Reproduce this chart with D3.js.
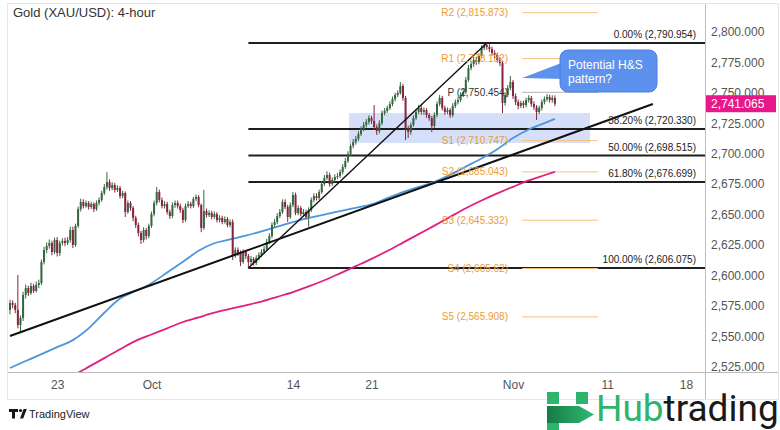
<!DOCTYPE html>
<html>
<head>
<meta charset="utf-8">
<script src="https://cdn.jsdelivr.net/npm/d3@7"></script>
<style>
  html, body { margin: 0; padding: 0; background: #ffffff; }
  svg { display: block; font-family: "Liberation Sans", Arial, sans-serif; }
</style>
</head>
<body>
<svg id="chart" width="780" height="430"></svg>
<script>
// ---- Gold (XAU/USD) 4-hour candles, Sep 18 – Nov 5 2024 (6 bars per session) ----
const tradingDays = [
  "2024-09-18","2024-09-19","2024-09-20","2024-09-23","2024-09-24","2024-09-25","2024-09-26","2024-09-27",
  "2024-09-30","2024-10-01","2024-10-02","2024-10-03","2024-10-04","2024-10-07","2024-10-08","2024-10-09",
  "2024-10-10","2024-10-11","2024-10-14","2024-10-15","2024-10-16","2024-10-17","2024-10-18","2024-10-21",
  "2024-10-22","2024-10-23","2024-10-24","2024-10-25","2024-10-28","2024-10-29","2024-10-30","2024-10-31",
  "2024-11-01","2024-11-04","2024-11-05","2024-11-06","2024-11-07","2024-11-08","2024-11-11","2024-11-12",
  "2024-11-13","2024-11-14","2024-11-15","2024-11-18","2024-11-19","2024-11-20","2024-11-21","2024-11-22"
];
const barsPerDay = 6;
const dateTicks = ["2024-09-23","2024-10-01","2024-10-14","2024-10-21","2024-11-01","2024-11-11","2024-11-18"];

const open = [
  2571.6,2577.3,2575.7,2571.6,2559.2,2565.0,2583.9,2589.6,2585.5,2591.3,
  2587.2,2592.1,2593.7,2611.0,2620.9,2624.2,2626.6,2619.2,2629.1,2618.4,
  2626.6,2628.3,2626.6,2629.1,2637.3,2625.0,2640.6,2654.5,2660.3,2657.0,
  2659.5,2656.2,2658.7,2654.5,2659.5,2662.0,2667.7,2672.6,2676.7,2671.8,
  2674.3,2670.2,2671.8,2665.2,2667.7,2652.1,2659.5,2655.4,2647.2,2641.4,
  2634.8,2629.1,2637.3,2632.4,2640.6,2650.4,2659.5,2668.5,2662.0,2657.0,
  2658.7,2652.1,2648.8,2657.8,2659.5,2657.0,2653.7,2645.5,2657.0,2658.7,
  2657.0,2662.8,2664.4,2657.8,2639.0,2652.9,2649.6,2651.3,2648.0,2650.4,
  2645.5,2647.2,2643.9,2646.3,2641.4,2643.9,2616.8,2620.9,2618.4,2611.0,
  2619.2,2615.9,2611.0,2613.5,2610.2,2614.3,2616.8,2619.2,2621.7,2627.5,
  2632.4,2641.4,2643.9,2648.8,2652.1,2660.3,2656.2,2648.0,2657.8,2666.1,
  2651.3,2655.4,2650.4,2652.1,2648.0,2653.7,2662.0,2665.2,2663.6,2668.5,
  2675.1,2680.0,2682.5,2675.1,2678.4,2680.9,2681.7,2684.9,2689.1,2694.0,
  2699.8,2706.4,2709.6,2712.1,2716.2,2720.3,2723.6,2726.1,2729.3,2726.9,
  2721.9,2718.6,2725.2,2733.4,2735.1,2737.5,2740.8,2744.9,2748.2,2749.9,
  2755.6,2745.8,2721.1,2717.8,2723.6,2729.3,2734.3,2737.5,2734.3,2735.9,
  2731.8,2729.3,2722.8,2731.8,2740.8,2745.8,2737.5,2734.3,2735.9,2731.8,
  2739.2,2742.5,2744.1,2748.2,2750.7,2760.6,2770.4,2773.7,2777.0,2775.4,
  2780.3,2786.9,2789.3,2787.7,2786.0,2782.7,2781.1,2777.0,2774.5,2741.7,
  2748.2,2754.0,2758.9,2747.4,2742.5,2739.2,2741.7,2740.0,2744.1,2745.8,
  2740.8,2738.4,2734.3,2737.5,2742.5,2744.9,2746.6,2744.1,2745.8
];
const high = [
  2580.0,2579.5,2577.5,2600.3,2567.0,2586.5,2592.5,2591.5,2594.0,2593.0,
  2595.0,2596.5,2613.0,2623.5,2627.0,2629.5,2628.5,2631.0,2631.5,2628.5,
  2630.5,2631.0,2631.5,2640.0,2640.0,2642.5,2656.5,2663.0,2662.5,2661.5,
  2661.0,2660.5,2660.0,2661.5,2664.0,2669.5,2675.0,2684.9,2679.0,2676.5,
  2676.0,2674.0,2673.5,2669.5,2669.0,2661.5,2661.0,2657.0,2649.0,2643.5,
  2636.5,2639.5,2639.0,2642.5,2652.5,2661.5,2672.6,2670.5,2664.0,2661.0,
  2660.5,2654.0,2660.0,2661.5,2661.5,2659.0,2655.5,2659.0,2661.0,2660.5,
  2664.5,2666.5,2666.0,2659.0,2670.2,2655.0,2653.5,2653.0,2652.5,2652.0,
  2649.5,2649.0,2648.5,2648.0,2646.0,2646.0,2623.0,2623.0,2620.5,2621.5,
  2621.0,2617.5,2616.0,2615.0,2616.5,2619.0,2621.5,2624.0,2630.0,2634.5,
  2643.5,2646.5,2651.0,2654.5,2662.5,2662.5,2658.0,2660.0,2668.5,2668.0,
  2657.5,2657.0,2654.5,2654.0,2656.0,2664.0,2667.5,2667.5,2670.5,2677.5,
  2682.5,2685.5,2684.5,2680.5,2683.0,2684.0,2687.0,2691.5,2696.5,2702.0,
  2708.5,2712.0,2714.5,2718.5,2722.5,2726.0,2728.5,2731.5,2731.0,2740.0,
  2724.0,2727.5,2735.5,2737.5,2739.5,2743.0,2747.0,2750.0,2752.0,2758.9,
  2757.5,2747.5,2723.0,2725.5,2731.5,2736.5,2740.0,2739.5,2738.0,2737.5,
  2733.5,2731.0,2734.0,2743.0,2748.2,2747.5,2739.5,2738.0,2737.5,2741.5,
  2744.5,2746.5,2750.5,2753.0,2763.0,2773.0,2776.0,2779.5,2779.5,2782.5,
  2789.0,2790.5,2790.954,2790.0,2788.0,2785.0,2783.0,2779.5,2776.5,2750.5,
  2756.5,2763.8,2760.5,2749.5,2744.5,2743.5,2743.5,2746.0,2748.0,2747.5,
  2743.0,2740.0,2739.5,2744.5,2747.0,2749.0,2748.5,2748.0,2748.0
];
const low = [
  2568.0,2573.0,2569.0,2556.5,2553.0,2562.5,2581.0,2583.0,2584.0,2585.5,
  2586.0,2589.5,2592.0,2609.0,2618.5,2622.0,2616.5,2617.5,2615.5,2616.0,
  2624.5,2624.0,2625.0,2627.0,2622.5,2623.5,2639.0,2652.5,2655.0,2655.5,
  2654.0,2654.5,2652.0,2653.0,2657.5,2660.5,2666.0,2670.5,2669.5,2670.0,
  2668.0,2668.5,2663.0,2663.5,2648.0,2650.5,2653.0,2644.5,2639.0,2632.0,
  2625.8,2627.0,2629.5,2630.5,2639.0,2648.5,2657.5,2660.0,2655.0,2655.0,
  2650.0,2646.5,2647.0,2655.5,2655.0,2651.5,2643.0,2644.0,2655.5,2655.0,
  2655.5,2661.0,2656.0,2635.5,2637.5,2647.5,2648.0,2646.0,2646.5,2643.5,
  2643.5,2642.0,2642.5,2639.5,2639.5,2612.6,2614.5,2616.0,2607.7,2609.5,
  2613.5,2606.075,2608.5,2608.0,2608.5,2612.5,2615.0,2617.5,2620.0,2625.5,
  2630.5,2639.5,2642.0,2647.0,2650.5,2654.5,2643.9,2646.5,2656.0,2649.5,
  2649.5,2648.5,2648.5,2646.0,2639.8,2652.0,2660.0,2661.5,2662.0,2667.0,
  2673.5,2678.5,2673.0,2673.5,2676.5,2679.0,2680.0,2683.0,2687.5,2692.5,
  2698.0,2704.5,2707.5,2710.5,2714.5,2718.5,2721.5,2724.0,2724.5,2719.5,
  2715.4,2716.5,2723.5,2731.5,2733.5,2736.0,2739.0,2743.0,2746.5,2748.5,
  2743.5,2711.3,2712.9,2715.5,2722.0,2727.5,2732.5,2732.0,2732.0,2729.5,
  2727.0,2717.8,2721.0,2730.0,2739.0,2735.5,2732.0,2732.5,2729.5,2730.0,
  2737.5,2740.5,2742.5,2746.5,2749.0,2759.0,2768.5,2771.5,2773.0,2773.5,
  2778.5,2785.0,2785.5,2783.5,2780.5,2778.5,2775.0,2772.0,2733.4,2739.5,
  2746.5,2752.0,2745.0,2740.0,2736.5,2737.5,2737.5,2738.0,2742.0,2738.5,
  2736.0,2727.7,2732.5,2735.5,2740.5,2743.0,2742.0,2742.0,2739.0
];
const close = [
  2577.3,2575.7,2571.6,2559.2,2565.0,2583.9,2589.6,2585.5,2591.3,2587.2,
  2592.1,2593.7,2611.0,2620.9,2624.2,2626.6,2619.2,2629.1,2618.4,2626.6,
  2628.3,2626.6,2629.1,2637.3,2625.0,2640.6,2654.5,2660.3,2657.0,2659.5,
  2656.2,2658.7,2654.5,2659.5,2662.0,2667.7,2672.6,2676.7,2671.8,2674.3,
  2670.2,2671.8,2665.2,2667.7,2652.1,2659.5,2655.4,2647.2,2641.4,2634.8,
  2629.1,2637.3,2632.4,2640.6,2650.4,2659.5,2668.5,2662.0,2657.0,2658.7,
  2652.1,2648.8,2657.8,2659.5,2657.0,2653.7,2645.5,2657.0,2658.7,2657.0,
  2662.8,2664.4,2657.8,2639.0,2652.9,2649.6,2651.3,2648.0,2650.4,2645.5,
  2647.2,2643.9,2646.3,2641.4,2643.9,2616.8,2620.9,2618.4,2611.0,2619.2,
  2615.9,2611.0,2613.5,2610.2,2614.3,2616.8,2619.2,2621.7,2627.5,2632.4,
  2641.4,2643.9,2648.8,2652.1,2660.3,2656.2,2648.0,2657.8,2666.1,2651.3,
  2655.4,2650.4,2652.1,2648.0,2653.7,2662.0,2665.2,2663.6,2668.5,2675.1,
  2680.0,2682.5,2675.1,2678.4,2680.9,2681.7,2684.9,2689.1,2694.0,2699.8,
  2706.4,2709.6,2712.1,2716.2,2720.3,2723.6,2726.1,2729.3,2726.9,2721.9,
  2718.6,2725.2,2733.4,2735.1,2737.5,2740.8,2744.9,2748.2,2749.9,2755.6,
  2745.8,2721.1,2717.8,2723.6,2729.3,2734.3,2737.5,2734.3,2735.9,2731.8,
  2729.3,2722.8,2731.8,2740.8,2745.8,2737.5,2734.3,2735.9,2731.8,2739.2,
  2742.5,2744.1,2748.2,2750.7,2760.6,2770.4,2773.7,2777.0,2775.4,2780.3,
  2786.9,2789.3,2787.7,2786.0,2782.7,2781.1,2777.0,2774.5,2741.7,2748.2,
  2754.0,2758.9,2747.4,2742.5,2739.2,2741.7,2740.0,2744.1,2745.8,2740.8,
  2738.4,2734.3,2737.5,2742.5,2744.9,2746.6,2744.1,2745.8,2741.065
];

// ---- moving averages (sampled once per session) ----
const maFastBars = [0,6,12,18,24,30,36,42,48,54,60,66,72,78,84,90,96,102,108,114,120,126,132,138,144,150,156,162,168,174,180,186,192,198,204,208];
const maFast = [2523.9,2529.6,2535.3,2541.1,2546.8,2556.4,2569.3,2581.0,2587.2,2593.6,2602.4,2611.2,2620.2,2626.4,2629.5,2632.6,2636.2,2640.0,2643.8,2647.2,2650.0,2652.9,2655.5,2658.3,2663.5,2668.5,2672.7,2676.9,2682.6,2689.4,2696.1,2703.7,2712.9,2719.9,2725.1,2728.7];
const maSlowBars = [24,30,36,42,48,54,60,66,72,78,84,90,96,102,108,114,120,126,132,138,144,150,156,162,168,174,180,186,192,198,204,208];
const maSlow = [2517.6,2524.8,2532.0,2539.3,2546.2,2551.4,2556.5,2561.7,2565.5,2569.3,2572.4,2575.4,2578.5,2582.4,2586.3,2590.9,2596.0,2601.7,2607.6,2613.6,2620.0,2626.9,2633.9,2640.9,2648.1,2655.2,2661.5,2667.4,2672.8,2678.0,2682.3,2685.2];

// ---- drawn annotations ----
const trendLong = [[0, 2550.2], [245.4, 2740.8]];
const trendSteep = [[91, 2606.075], [182, 2790.954]];
const fibLow = 2606.075, fibHigh = 2790.954, fibStartBar = 91;
const fibLevels = [0, 0.382, 0.5, 0.618, 1];
const pivotNames = ["R2", "R1", "P", "S1", "S2", "S3", "S4", "S5"];
const pivotValues = [2815.873, 2778.182, 2750.454, 2710.747, 2685.043, 2645.332, 2605.62, 2565.908];
const zoneBars = [129.4, 221.4];
const zonePrices = [2708.8, 2733.4];
const priceTicks = d3.range(2525, 2801, 25);

// ---- layout ----
const svg = d3.select("#chart");
const plot = { left: 8, right: 705, top: 5, bottom: 372 };
const x = d3.scaleLinear().domain([0, 265.3]).range([10, plot.right]);
const y = d3.scaleLinear().domain([2520.6, 2822.2]).range([plot.bottom, plot.top]);
const fmt3 = d3.format(",.3f");
const fmtPlain = d3.format(",");

svg.append("rect").attr("width", 780).attr("height", 430).attr("fill", "#ffffff");
svg.append("rect").attr("x", 7.5).attr("y", 3.5).attr("width", 771).attr("height", 396)
  .attr("fill", "none").attr("stroke", "#e6e6e6");

svg.append("clipPath").attr("id", "plotClip").append("rect")
  .attr("x", plot.left).attr("y", plot.top)
  .attr("width", plot.right - plot.left).attr("height", plot.bottom - plot.top);
const g = svg.append("g").attr("clip-path", "url(#plotClip)");

// support zone
g.append("rect")
  .attr("x", x(zoneBars[0])).attr("width", x(zoneBars[1]) - x(zoneBars[0]))
  .attr("y", y(zonePrices[1])).attr("height", y(zonePrices[0]) - y(zonePrices[1]))
  .attr("fill", "rgba(120,150,235,0.30)");

// Fibonacci retracement
fibLevels.forEach(lv => {
  const p = fibHigh - lv * (fibHigh - fibLow);
  g.append("line")
    .attr("x1", x(fibStartBar)).attr("x2", plot.right)
    .attr("y1", y(p)).attr("y2", y(p))
    .attr("stroke", "#1e1e1e").attr("stroke-width", 2);
  svg.append("text")
    .attr("x", 696).attr("y", y(p) - 5)
    .attr("text-anchor", "end").attr("font-size", 10).attr("fill", "#222")
    .text(`${(lv * 100).toFixed(2)}% (${fmt3(p)})`);
});

// pivot points
pivotNames.forEach((name, k) => {
  const p = pivotValues[k];
  const isP = name === "P";
  g.append("line")
    .attr("x1", x(195.5)).attr("x2", x(224.5))
    .attr("y1", y(p)).attr("y2", y(p))
    .attr("stroke", isP ? "#b5b5b5" : "#f6c47e").attr("stroke-width", 1);
  svg.append("text")
    .attr("x", 508).attr("y", y(p)).attr("dy", "0.35em")
    .attr("text-anchor", "end").attr("font-size", 10)
    .attr("fill", isP ? "#333" : "#ee9b32")
    .text(`${name} (${fmtPlain(p)})`);
});

// moving averages
const maLine = d3.line().x(d => x(d[0])).y(d => y(d[1])).curve(d3.curveMonotoneX);
g.append("path").datum(maSlowBars.map((b, k) => [b, maSlow[k]]))
  .attr("d", maLine).attr("fill", "none").attr("stroke", "#e0207f").attr("stroke-width", 1.8);
g.append("path").datum(maFastBars.map((b, k) => [b, maFast[k]]))
  .attr("d", maLine).attr("fill", "none").attr("stroke", "#4a97db").attr("stroke-width", 1.8);

// candles
const bars = close.map((c, i) => ({ i, o: open[i], h: high[i], l: low[i], c }));
const upCol = "#35673c", downCol = "#862440";
const cg = g.append("g");
cg.selectAll("line").data(bars).join("line")
  .attr("x1", d => x(d.i)).attr("x2", d => x(d.i))
  .attr("y1", d => y(d.h)).attr("y2", d => y(d.l))
  .attr("stroke", d => d.c >= d.o ? upCol : downCol).attr("stroke-width", 1);
cg.selectAll("rect").data(bars).join("rect")
  .attr("x", d => x(d.i) - 1).attr("width", 2)
  .attr("y", d => y(Math.max(d.o, d.c)))
  .attr("height", d => Math.max(1, Math.abs(y(d.o) - y(d.c))))
  .attr("fill", d => d.c >= d.o ? upCol : downCol);

// trend lines
const tl = d3.line().x(d => x(d[0])).y(d => y(d[1]));
g.append("path").datum(trendLong).attr("d", tl).attr("stroke", "#111").attr("stroke-width", 2).attr("fill", "none");
g.append("path").datum(trendSteep).attr("d", tl).attr("stroke", "#111").attr("stroke-width", 1.4).attr("fill", "none");

// callout
const tipX = x(195.5), tipY = y(2762.2);
const cb = { x: 560, y: 50, w: 97, h: 42 };
svg.append("path")
  .attr("d", `M${tipX},${tipY} L${cb.x + 4},${cb.y + 12} L${cb.x + 4},${tipY + 1} Z`)
  .attr("fill", "#5d91ee");
svg.append("rect").attr("x", cb.x).attr("y", cb.y).attr("width", cb.w).attr("height", cb.h)
  .attr("rx", 8).attr("fill", "#5d91ee").attr("stroke", "#4a7fe0").attr("stroke-width", 1);
svg.append("text").attr("x", cb.x + 8).attr("y", cb.y + 19).attr("font-size", 12).attr("fill", "#fff").text("Potential H&S");
svg.append("text").attr("x", cb.x + 8).attr("y", cb.y + 33).attr("font-size", 12).attr("fill", "#fff").text("pattern?");

// axes frame
svg.append("line").attr("x1", plot.right + 0.5).attr("x2", plot.right + 0.5).attr("y1", 4).attr("y2", 399)
  .attr("stroke", "#bdbdbd");
svg.append("line").attr("x1", 8).attr("x2", 778).attr("y1", plot.bottom + 0.5).attr("y2", plot.bottom + 0.5)
  .attr("stroke", "#bdbdbd");

// price axis (the last-price tag covers part of the tick beneath it)
const yAxis = d3.axisRight(y).tickValues(priceTicks).tickSize(0).tickPadding(6).tickFormat(fmt3);
const ya = svg.append("g").attr("transform", `translate(${plot.right},0)`).call(yAxis);
ya.select(".domain").remove();
ya.selectAll("text").attr("font-size", 12).attr("fill", "#555").attr("font-family", "Liberation Sans, Arial, sans-serif");

// last price tag
const last = close[close.length - 1];
svg.append("rect").attr("x", 706).attr("y", y(last) - 8.5).attr("width", 70).attr("height", 17)
  .attr("fill", "#e8178a");
svg.append("text").attr("x", 711).attr("y", y(last)).attr("dy", "0.35em")
  .attr("font-size", 12).attr("fill", "#fff").text(fmt3(last));

// time axis
const monthFmt = d3.timeFormat("%b"), parse = d3.timeParse("%Y-%m-%d");
const tickBars = dateTicks.map(d => tradingDays.indexOf(d) * barsPerDay);
const xAxis = d3.axisBottom(x).tickValues(tickBars).tickSize(0).tickPadding(8)
  .tickFormat((b, k) => { const dt = parse(dateTicks[k]); return dt.getDate() === 1 ? monthFmt(dt) : dt.getDate(); });
const xa = svg.append("g").attr("transform", `translate(0,${plot.bottom})`).call(xAxis);
xa.select(".domain").remove();
xa.selectAll("text").attr("font-size", 12).attr("fill", "#555").attr("font-family", "Liberation Sans, Arial, sans-serif");

// title
svg.append("text").attr("x", 13).attr("y", 17).attr("font-size", 13).attr("fill", "#333")
  .text("Gold (XAU/USD): 4-hour");

// TradingView mark
const tv = svg.append("g").attr("fill", "#131722");
tv.append("path").attr("d", "M9,409 h9 v3 h-3 v6.5 h-3 v-6.5 h-3 z");
tv.append("circle").attr("cx", 20.5).attr("cy", 410.5).attr("r", 1.6);
tv.append("path").attr("d", "M20,418.5 l3.6,-9.5 h3.2 l-3.6,9.5 z");
svg.append("text").attr("x", 29).attr("y", 418).attr("font-size", 11).attr("fill", "#222").text("TradingView");

// Hubtrading logo
const defs = svg.append("defs");
const grad = defs.append("linearGradient").attr("id", "hubArrow").attr("x1", "0").attr("x2", "1");
grad.append("stop").attr("offset", "0").attr("stop-color", "#177a47");
grad.append("stop").attr("offset", "1").attr("stop-color", "#2fbb72");
const logo = svg.append("g");
logo.append("rect").attr("x", 547).attr("y", 392).attr("width", 12).attr("height", 12).attr("fill", "#2db56d");
logo.append("rect").attr("x", 576).attr("y", 392).attr("width", 12).attr("height", 12).attr("fill", "#2db56d");
logo.append("path").attr("d", "M547,406 L579,406 L594,414.5 L579,423 L547,423 Z").attr("fill", "url(#hubArrow)");
logo.append("rect").attr("x", 547).attr("y", 423).attr("width", 12).attr("height", 8).attr("fill", "#2db56d");
const word = svg.append("text").attr("x", 596).attr("y", 421).attr("font-size", 37)
  .attr("font-family", "Roboto, 'Open Sans', sans-serif");
word.append("tspan").attr("fill", "#2db56d").text("Hub");
word.append("tspan").attr("fill", "#1a1a1a").text("trading");
</script>
</body>
</html>
